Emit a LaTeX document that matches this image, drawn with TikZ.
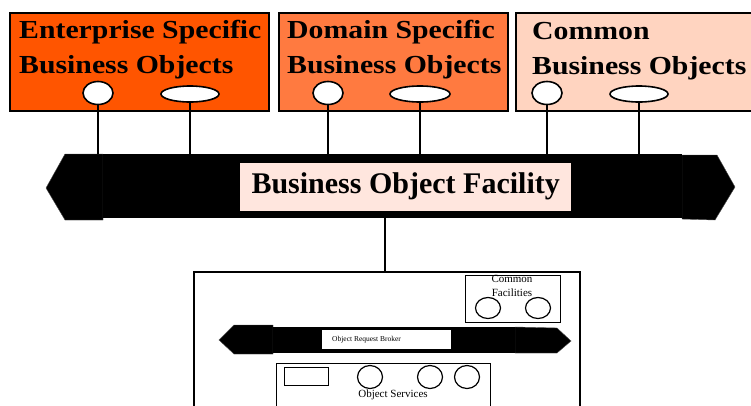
\documentclass[tikz,border=0pt]{standalone}
\usepackage{fontspec}
\setmainfont{Liberation Serif}
\newfontfamily\widefont[FakeStretch=1.145]{Liberation Serif}
\definecolor{entfill}{RGB}{255,85,0}
\definecolor{domfill}{RGB}{255,122,64}
\definecolor{comfill}{RGB}{255,212,192}
\definecolor{labfill}{RGB}{255,230,222}
\tikzset{
  topbox/.style={draw=black, line width=1.6pt, inner sep=0pt, anchor=north west},
  toptext/.style={anchor=base west, inner sep=0pt, font=\widefont\fontsize{26}{30}\selectfont\bfseries},
  port/.style={draw=black, fill=white, line width=1.6pt, ellipse, inner sep=0pt},
  wire/.style={draw=black, line width=1.6pt},
  barfill/.style={fill=black, draw=black!70, line width=0.4pt},
  thin/.style={draw=black, line width=1.2pt},
  smallport/.style={draw=black, fill=white, line width=1.2pt, ellipse, inner sep=0pt},
}
\usetikzlibrary{shapes.geometric}
\begin{document}
\begin{tikzpicture}[x=1pt,y=-1pt]
\useasboundingbox (0,0) rectangle (751,405);

% three business object groups
\node[topbox, fill=entfill, minimum width=259pt, minimum height=98pt] (ent) at (9,12) {};
\node[topbox, fill=domfill, minimum width=229pt, minimum height=98pt] (dom) at (278,12) {};
\node[topbox, fill=comfill, minimum width=240pt, minimum height=98pt] (com) at (515,12) {};

\node[toptext] (entA) at (19,38) {Enterprise Specific};
\node[toptext] (entB) at (19,73) {Business Objects};
\node[toptext] (domA) at (287,38) {Domain Specific};
\node[toptext] (domB) at (287,73) {Business Objects};
\node[toptext] (comA) at (532,39) {Common};
\node[toptext] (comB) at (532,74) {Business Objects};

% interface ports
\node[port, minimum width=30pt, minimum height=23pt] (e1) at (98,93) {};
\node[port, minimum width=58pt, minimum height=16pt] (e2) at (190,94) {};
\node[port, minimum width=30pt, minimum height=23pt] (d1) at (328,93) {};
\node[port, minimum width=60pt, minimum height=16pt] (d2) at (420,94) {};
\node[port, minimum width=30pt, minimum height=23pt] (c1) at (547,93) {};
\node[port, minimum width=58pt, minimum height=16pt] (c2) at (639,94) {};

% business object facility bus
\path[barfill] (103,154) -- (65,154) -- (46,188) -- (65,220) -- (103,220) -- cycle;
\path[barfill] (682,155) -- (717,155) -- (735,187) -- (715,220) -- (682,219) -- cycle;
\node[fill=black, inner sep=0pt, minimum width=579pt, minimum height=64pt, anchor=north west] (bof) at (103,154) {};
\node[fill=labfill, inner sep=0pt, minimum width=331pt, minimum height=48pt, anchor=north west] (boflab) at (240,163) {};
\node[anchor=base, inner sep=0pt, font=\fontsize{30}{34}\selectfont\bfseries] (boftext) at (boflab.center |- 0,193) {Business Object Facility};

% connections to the bus
\foreach \p in {e1,e2,d1,d2,c1,c2}
  \draw[wire] (\p.south) -- (\p.south |- bof.north);

% CORBA architecture box
\node[draw=black, line width=1.6pt, inner sep=0pt, minimum width=386pt, minimum height=150pt, anchor=north west] (orbbox) at (193,271) {};
\draw[wire] (bof.south -| 385,0) -- (orbbox.north -| 385,0);

% common facilities
\node[thin, inner sep=0pt, minimum width=95pt, minimum height=47pt, anchor=north west] (cf) at (465,275) {};
\node[align=center, inner sep=0pt, font=\fontsize{11}{14}\selectfont, anchor=base] (cftext) at (512,296) {Common\\Facilities};
\node[smallport, minimum width=25pt, minimum height=21pt] (cf1) at (488,308) {};
\node[smallport, minimum width=25pt, minimum height=21pt] (cf2) at (538,308) {};

% object request broker bus
\path[barfill] (273,325) -- (234,325) -- (219,340) -- (234,354) -- (273,354) -- cycle;
\path[barfill] (515,327) -- (557,328) -- (571,341) -- (557,353) -- (515,353) -- cycle;
\node[fill=black, inner sep=0pt, minimum width=242pt, minimum height=26pt, anchor=north west] (orb) at (273,327) {};
\node[fill=white, inner sep=0pt, minimum width=129pt, minimum height=19pt, anchor=north west] (orblab) at (322,330) {};
\node[anchor=base west, inner sep=0pt, font=\fontsize{7.5}{9}\selectfont] (orbtext) at (332,341) {Object Request Broker};

% object services
\node[thin, inner sep=0pt, minimum width=214pt, minimum height=50pt, anchor=north west] (os) at (276,363) {};
\node[thin, inner sep=0pt, minimum width=44pt, minimum height=18pt, anchor=north west] (osr) at (284,367) {};
\node[smallport, minimum width=25pt, minimum height=23pt] (os1) at (370,377) {};
\node[smallport, minimum width=25pt, minimum height=23pt] (os2) at (430,377) {};
\node[smallport, minimum width=25pt, minimum height=23pt] (os3) at (467,377) {};
\node[anchor=base, inner sep=0pt, font=\fontsize{11}{13}\selectfont] (ostext) at (393,397) {Object Services};
\end{tikzpicture}
\end{document}
